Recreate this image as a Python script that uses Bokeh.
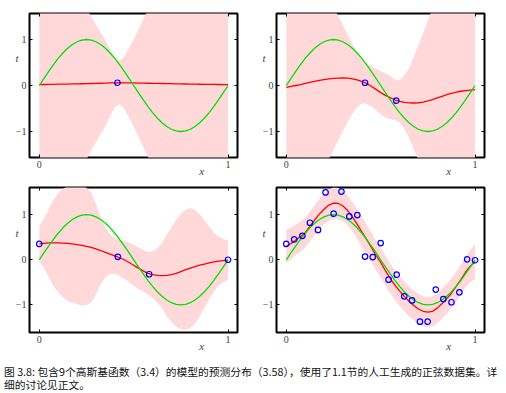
from bokeh.plotting import figure
from bokeh.layouts import column, row
from bokeh.models import LinearAxis, FixedTicker, Div
from bokeh.embed import file_html
from bokeh.resources import INLINE

# ---------------- data ----------------
x_grid = [0.0, 0.025, 0.05, 0.075, 0.1, 0.125, 0.15, 0.175, 0.2, 0.225,
          0.25, 0.275, 0.3, 0.325, 0.35, 0.375, 0.4, 0.425, 0.45, 0.475,
          0.5, 0.525, 0.55, 0.575, 0.6, 0.625, 0.65, 0.675, 0.7, 0.725,
          0.75, 0.775, 0.8, 0.825, 0.85, 0.875, 0.9, 0.925, 0.95, 0.975, 1.0]

green_true = [0.0, 0.156, 0.309, 0.454, 0.588, 0.707, 0.809, 0.891, 0.951, 0.988,
              1.0, 0.988, 0.951, 0.891, 0.809, 0.707, 0.588, 0.454, 0.309, 0.156,
              0.0, -0.156, -0.309, -0.454, -0.588, -0.707, -0.809, -0.891, -0.951, -0.988,
              -1.0, -0.988, -0.951, -0.891, -0.809, -0.707, -0.588, -0.454, -0.309, -0.156, 0.0]

# panel 1 (N=1)
mean1 = [0.020, 0.022, 0.024, 0.026, 0.028, 0.030, 0.032, 0.034, 0.036, 0.038,
         0.040, 0.043, 0.046, 0.049, 0.052, 0.055, 0.058, 0.060, 0.059, 0.057,
         0.055, 0.053, 0.051, 0.049, 0.047, 0.045, 0.043, 0.041, 0.039, 0.037,
         0.035, 0.033, 0.031, 0.029, 0.027, 0.025, 0.024, 0.023, 0.022, 0.021, 0.020]
std1 = [3.0, 3.0, 3.0, 3.0, 3.0, 3.0, 3.0, 3.0, 3.0, 1.9,
        1.65, 1.45, 1.28, 1.11, 0.93, 0.72, 0.53, 0.47, 0.57, 0.76,
        0.95, 1.16, 1.38, 1.6, 1.9, 3.0, 3.0, 3.0, 3.0, 3.0,
        3.0, 3.0, 3.0, 3.0, 3.0, 3.0, 3.0, 3.0, 3.0, 3.0, 3.0]
pts1_x = [0.414]
pts1_y = [0.06]

# panel 2 (N=2)
mean2 = [-0.04, -0.02, 0.0, 0.02, 0.045, 0.068, 0.09, 0.11, 0.128, 0.143,
         0.155, 0.162, 0.165, 0.16, 0.145, 0.12, 0.088, 0.045, -0.015, -0.085,
         -0.155, -0.215, -0.265, -0.31, -0.345, -0.365, -0.378, -0.38, -0.375, -0.36,
         -0.335, -0.305, -0.27, -0.235, -0.2, -0.17, -0.145, -0.125, -0.11, -0.1, -0.09]
std2 = [3.0, 3.0, 3.0, 3.0, 3.0, 3.0, 3.0, 3.0, 2.0, 1.75,
        1.55, 1.35, 1.15, 0.95, 0.76, 0.6, 0.48, 0.44, 0.44, 0.45,
        0.47, 0.48, 0.47, 0.44, 0.46, 0.58, 0.76, 1.0, 1.25, 1.5,
        1.75, 2.0, 3.0, 3.0, 3.0, 3.0, 3.0, 3.0, 3.0, 3.0, 3.0]
pts2_x = [0.417, 0.583]
pts2_y = [0.06, -0.33]

# panel 3 (N=4)
mean3 = [0.35, 0.365, 0.372, 0.375, 0.375, 0.37, 0.362, 0.35, 0.335, 0.317,
         0.297, 0.272, 0.24, 0.205, 0.165, 0.125, 0.085, 0.045, 0.0, -0.06,
         -0.12, -0.185, -0.245, -0.3, -0.33, -0.345, -0.35, -0.345, -0.33, -0.3,
         -0.26, -0.22, -0.185, -0.15, -0.12, -0.095, -0.07, -0.048, -0.03, -0.017, -0.01]
std3 = [0.395, 0.55, 0.76, 0.95, 1.1, 1.2, 1.27, 1.3, 1.32, 1.33,
        1.3, 1.22, 1.0, 0.75, 0.55, 0.44, 0.40, 0.40, 0.42, 0.44,
        0.455, 0.46, 0.46, 0.47, 0.52, 0.6, 0.72, 0.9, 1.05, 1.18,
        1.28, 1.33, 1.33, 1.26, 1.13, 0.97, 0.8, 0.65, 0.54, 0.475, 0.435]
pts3_x = [0.0, 0.416, 0.582, 1.0]
pts3_y = [0.35, 0.066, -0.32, 0.0]

# panel 4 (N=25)
mean4 = [0.3, 0.36, 0.44, 0.51, 0.6, 0.74, 0.88, 1.01, 1.12, 1.21,
         1.255, 1.25, 1.19, 1.09, 0.95, 0.79, 0.62, 0.45, 0.28, 0.1,
         -0.06, -0.24, -0.41, -0.56, -0.69, -0.81, -0.92, -1.01, -1.09, -1.14,
         -1.16, -1.14, -1.07, -0.97, -0.86, -0.74, -0.59, -0.44, -0.27, -0.14, -0.04]
std4 = [0.37, 0.35, 0.34, 0.335, 0.33, 0.33, 0.33, 0.33, 0.34, 0.345,
        0.35, 0.345, 0.335, 0.33, 0.33, 0.33, 0.33, 0.33, 0.33, 0.33,
        0.33, 0.33, 0.33, 0.33, 0.33, 0.33, 0.33, 0.33, 0.335, 0.335,
        0.335, 0.335, 0.33, 0.33, 0.33, 0.33, 0.33, 0.335, 0.34, 0.36, 0.385]
pts4_x = [0.0, 0.042, 0.085, 0.125, 0.168, 0.208, 0.251, 0.292, 0.334, 0.376,
          0.417, 0.458, 0.5, 0.542, 0.585, 0.625, 0.666, 0.708, 0.749, 0.792,
          0.832, 0.875, 0.917, 0.958, 1.0]
pts4_y = [0.35, 0.45, 0.53, 0.82, 0.66, 1.49, 1.02, 1.51, 0.96, 0.99,
          0.07, 0.06, 0.37, -0.44, -0.33, -0.81, -0.90, -1.37, -1.37, -0.66,
          -0.87, -0.94, -0.72, 0.01, -0.01]

y_ticks = [-1, 0, 1]
x_ticks = [0, 1]
y_tick_labels = {-1: "\u22121", 0: "0", 1: "1"}
x_name = "x"
y_name = "t"
caption = ("图 3.8: 包含9个高斯基函数（3.4）的模型的预测分布（3.58），"
           "使用了1.1节的人工生成的正弦数据集。详<br>细的讨论见正文。")

# ---------------- styling ----------------
BAND = "#ffd9d9"
SERIF = "Liberation Serif"


def clean(ax):
    ax.axis_line_color = None
    ax.minor_tick_line_color = None
    ax.minor_tick_in = 0
    ax.minor_tick_out = 0
    ax.axis_label_standoff = 0


def panel(mean, std, px, py, yr, w, h, left, right, top, bottom):
    p = figure(width=w, height=h,
               x_range=(-0.052, 1.05), y_range=yr,
               output_backend="svg", toolbar_location=None,
               min_border_left=left, min_border_right=right,
               min_border_top=top, min_border_bottom=bottom,
               background_fill_color="white", border_fill_color="white")
    p.grid.visible = False
    p.outline_line_color = "black"
    p.outline_line_width = 2

    upper = [m + s for m, s in zip(mean, std)]
    lower = [m - s for m, s in zip(mean, std)]
    p.varea(x=x_grid, y1=lower, y2=upper, fill_color=BAND, fill_alpha=1.0)
    p.line(x_grid, mean, line_color="#ff0000", line_width=1.3)
    p.line(x_grid, green_true, line_color="#00e000", line_width=1.3)
    p.scatter(px, py, marker="circle", size=5.5, fill_color=None,
              line_color="#0000ff", line_width=1.2)

    for ax in p.xaxis:
        ax.ticker = FixedTicker(ticks=x_ticks)
    for ax in p.yaxis:
        ax.ticker = FixedTicker(ticks=y_ticks)
        ax.major_label_overrides = y_tick_labels
    for ax in list(p.xaxis) + list(p.yaxis):
        clean(ax)
        ax.major_tick_in = 3
        ax.major_tick_out = 0
        ax.major_tick_line_color = "black"
        ax.major_label_text_font = SERIF
        ax.major_label_text_font_size = "10px"
        ax.major_label_standoff = 3

    # inner ticks on the right and top sides (no labels)
    r_ax = LinearAxis(ticker=FixedTicker(ticks=y_ticks),
                      major_tick_in=3, major_tick_out=0,
                      major_label_text_color=None, major_label_text_font_size="1px",
                      major_label_standoff=0)
    t_ax = LinearAxis(ticker=FixedTicker(ticks=x_ticks),
                      major_tick_in=3, major_tick_out=0,
                      major_label_text_color=None, major_label_text_font_size="1px",
                      major_label_standoff=0)
    clean(r_ax)
    clean(t_ax)
    p.add_layout(r_ax, "right")
    p.add_layout(t_ax, "above")

    # axis names placed as in the reference (t high on the left, x near right end)
    name_y = LinearAxis(ticker=FixedTicker(ticks=[0.6]),
                        major_label_overrides={0.6: y_name},
                        major_tick_line_color=None, major_tick_in=0, major_tick_out=0,
                        major_label_text_font=SERIF, major_label_text_font_style="italic",
                        major_label_text_font_size="11px", major_label_standoff=-6)
    name_x = LinearAxis(ticker=FixedTicker(ticks=[0.86]),
                        major_label_overrides={0.86: x_name},
                        major_tick_line_color=None, major_tick_in=0, major_tick_out=0,
                        major_label_text_font=SERIF, major_label_text_font_style="italic",
                        major_label_text_font_size="11px", major_label_standoff=-6)
    clean(name_y)
    clean(name_x)
    p.add_layout(name_y, "left")
    p.add_layout(name_x, "below")
    return p


p1 = panel(mean1, std1, pts1_x, pts1_y, (-1.565, 1.565), 247, 181, 29, 10, 13, 24)
p2 = panel(mean2, std2, pts2_x, pts2_y, (-1.565, 1.565), 251, 181, 29, 14, 13, 24)
p3 = panel(mean3, std3, pts3_x, pts3_y, (-1.61, 1.60), 247, 180, 29, 10, 6, 29)
p4 = panel(mean4, std4, pts4_x, pts4_y, (-1.61, 1.60), 251, 180, 29, 14, 6, 29)

div = Div(text=caption, width=498, height=26, margin=(4, 0, 0, 4),
          styles={"font-family": "'Noto Sans CJK SC'", "font-size": "10.75px",
                  "line-height": "13px", "white-space": "nowrap", "color": "#111"})

layout = column(row(p1, p2), row(p3, p4), div)

open("out.html", "w").write(file_html(layout, INLINE))
